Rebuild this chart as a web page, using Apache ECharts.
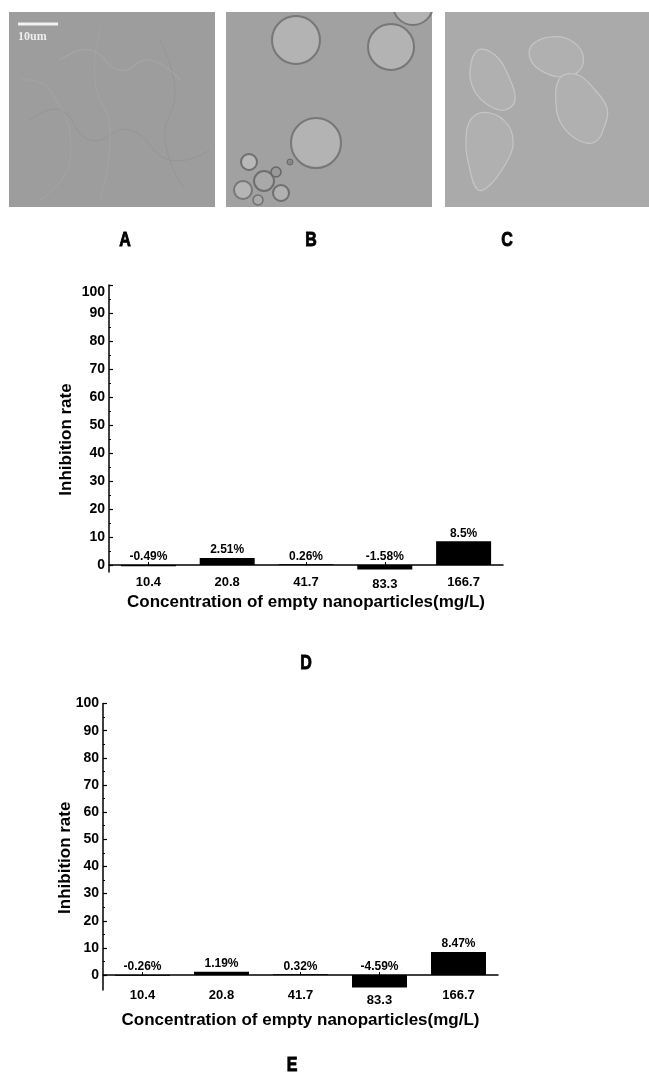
<!DOCTYPE html>
<html>
<head>
<meta charset="utf-8">
<script src="https://cdn.jsdelivr.net/npm/echarts@6/dist/echarts.min.js"></script>
<style>
  html, body { margin: 0; padding: 0; background: #fff; }
  #main { width: 649px; height: 1073px; }
</style>
</head>
<body>
<div id="main"></div>
<script>
// data
var concLabels = ['10.4', '20.8', '41.7', '83.3', '166.7'];
var rateD = [-0.49, 2.51, 0.26, -1.58, 8.5];
var rateE = [-0.26, 1.19, 0.32, -4.59, 8.47];
var rateTicks = [0, 10, 20, 30, 40, 50, 60, 70, 80, 90, 100];
var minorTicks = [5, 15, 25, 35, 45, 55, 65, 75, 85, 95];
var xName = 'Concentration of empty nanoparticles(mg/L)';
var yName = 'Inhibition rate';

var FONT = '"Liberation Sans", Arial, sans-serif';
var chart = echarts.init(document.getElementById('main'));

// x labels sit a bit lower under clearly negative bars
function xLabelRich() {
    var r = {};
    for (var p = 0; p <= 8; p++) {
        r['s' + p] = { padding: [p, 0, 0, 0], fontSize: 13, fontWeight: 'bold', fontFamily: FONT, color: '#000' };
    }
    return r;
}
function xLabelFmt(vals) {
    return function (v, i) {
        var p = Math.max(0, Math.round(-vals[i]));
        return '{s' + p + '|' + v + '}';
    };
}

function panelLetter(t, x, y) {
    return {
        type: 'text', x: x, y: y, scaleX: 0.8,
        style: {
            text: t, x: 0, y: 0, fill: '#000', stroke: '#000', lineWidth: 0.9,
            font: 'bold 20px "Liberation Sans", Arial, sans-serif',
            textAlign: 'center', textVerticalAlign: 'middle'
        }
    };
}

// micrograph stand-ins (drawn, not data)
var cellStyleB = { fill: '#b3b3b3', stroke: '#777', lineWidth: 2 };
var cellStyleC = { fill: '#b0b0b0', stroke: '#c6c6c6', lineWidth: 1.2 };
var faint = function (c, w) { return { stroke: c, lineWidth: w, fill: null, opacity: 0.7 }; };
var photos = [
    // panel A
    { type: 'rect', shape: { x: 9, y: 12, width: 206, height: 195 }, style: { fill: '#9d9d9d' } },
    { type: 'polyline', shape: { points: [[60, 60], [90, 50], [120, 70], [150, 60], [180, 80]], smooth: 0.5 }, style: faint('#aaaaaa', 1.2) },
    { type: 'polyline', shape: { points: [[30, 120], [60, 110], [90, 140], [130, 130], [170, 160], [210, 150]], smooth: 0.5 }, style: faint('#929292', 1) },
    { type: 'polyline', shape: { points: [[100, 30], [95, 80], [110, 130], [100, 200]], smooth: 0.5 }, style: faint('#a7a7a7', 1) },
    { type: 'polyline', shape: { points: [[160, 40], [175, 90], [165, 140], [185, 190]], smooth: 0.5 }, style: faint('#939393', 1) },
    { type: 'polyline', shape: { points: [[20, 80], [50, 90], [70, 160], [40, 200]], smooth: 0.5 }, style: faint('#a6a6a6', 1) },
    { type: 'line', shape: { x1: 18, y1: 24, x2: 58, y2: 24 }, style: { stroke: '#f2f2f2', lineWidth: 3 } },
    { type: 'text', x: 18, y: 37, style: { text: '10um', fill: '#eeeeee', fontSize: 12, fontWeight: 'bold', fontFamily: '"Liberation Serif", serif', textVerticalAlign: 'middle' } },
    // panel B
    { type: 'rect', shape: { x: 226, y: 12, width: 206, height: 195 }, style: { fill: '#a1a1a1' } },
    { type: 'circle', shape: { cx: 296, cy: 40, r: 24 }, style: cellStyleB },
    { type: 'circle', shape: { cx: 391, cy: 47, r: 23 }, style: cellStyleB },
    { type: 'circle', shape: { cx: 413, cy: 5, r: 20 }, style: cellStyleB },
    { type: 'circle', shape: { cx: 316, cy: 143, r: 25 }, style: cellStyleB },
    { type: 'circle', shape: { cx: 249, cy: 162, r: 8 }, style: { fill: '#b8b8b8', stroke: '#6f6f6f', lineWidth: 2 } },
    { type: 'circle', shape: { cx: 264, cy: 181, r: 10 }, style: { fill: '#a9a9a9', stroke: '#6f6f6f', lineWidth: 2 } },
    { type: 'circle', shape: { cx: 243, cy: 190, r: 9 }, style: { fill: '#b5b5b5', stroke: '#777', lineWidth: 2 } },
    { type: 'circle', shape: { cx: 281, cy: 193, r: 8 }, style: { fill: '#b0b0b0', stroke: '#6f6f6f', lineWidth: 2 } },
    { type: 'circle', shape: { cx: 276, cy: 172, r: 5 }, style: { fill: '#999', stroke: '#666', lineWidth: 1.5 } },
    { type: 'circle', shape: { cx: 290, cy: 162, r: 3 }, style: { fill: '#888', stroke: '#666', lineWidth: 1 } },
    { type: 'circle', shape: { cx: 258, cy: 200, r: 5 }, style: { fill: '#aaa', stroke: '#707070', lineWidth: 1.5 } },
    { type: 'rect', shape: { x: 220, y: 0, width: 220, height: 12 }, style: { fill: '#fff' } },
    // panel C
    { type: 'rect', shape: { x: 445, y: 12, width: 204, height: 195 }, style: { fill: '#aaaaaa' } },
    { type: 'polygon', shape: { points: [[478, 50], [495, 55], [508, 75], [515, 100], [505, 110], [488, 105], [474, 90], [470, 70]], smooth: 0.4 }, style: cellStyleC },
    { type: 'polygon', shape: { points: [[532, 45], [550, 37], [570, 40], [583, 55], [578, 72], [560, 77], [540, 70], [530, 58]], smooth: 0.4 }, style: cellStyleC },
    { type: 'polygon', shape: { points: [[560, 78], [578, 75], [595, 90], [607, 108], [605, 125], [595, 142], [578, 140], [562, 125], [556, 105]], smooth: 0.4 }, style: cellStyleC },
    { type: 'polygon', shape: { points: [[472, 118], [490, 113], [508, 125], [513, 145], [505, 165], [490, 185], [478, 190], [470, 170], [466, 140]], smooth: 0.4 }, style: cellStyleC },
    panelLetter('A', 125, 240),
    panelLetter('B', 311, 240),
    panelLetter('C', 507, 240),
    panelLetter('D', 306, 663),
    panelLetter('E', 292, 1065)
];

function mainY(grid, min, gap, topRich) {
    return {
        type: 'value', gridIndex: grid, position: 'left', min: min, max: 100,
        name: yName, nameLocation: 'middle', nameGap: gap, nameMoveOverlap: false,
        nameTextStyle: { fontSize: 17, fontWeight: 'bold', fontFamily: FONT, color: '#000', padding: [0, 22, 0, 0] },
        axisLine: { show: true, onZero: false, lineStyle: { color: '#000', width: 1.5 } },
        axisTick: { show: true, inside: true, length: 4, customValues: rateTicks, lineStyle: { color: '#000', width: 1.2 } },
        axisLabel: {
            customValues: rateTicks, margin: 4,
            fontSize: 14, fontWeight: 'bold', fontFamily: FONT, color: '#000',
            formatter: function (v) { return (topRich && v === 100) ? '{t|100}' : String(v); },
            rich: { t: { padding: [14, 0, 0, 0], fontSize: 14, fontWeight: 'bold', fontFamily: FONT, color: '#000' } }
        },
        splitLine: { show: false }
    };
}
function minorY(grid, min) {
    return {
        type: 'value', gridIndex: grid, position: 'left', offset: 0, min: min, max: 100,
        axisLine: { show: false, onZero: false },
        axisTick: { show: true, inside: true, length: 2, customValues: minorTicks, lineStyle: { color: '#000', width: 1 } },
        axisLabel: { show: false },
        splitLine: { show: false }
    };
}
function xAx(grid, yIdx, vals, margin, gap) {
    return {
        type: 'category', gridIndex: grid, data: concLabels,
        name: xName, nameLocation: 'middle', nameGap: gap, nameMoveOverlap: false,
        nameTextStyle: { fontSize: 17, fontWeight: 'bold', fontFamily: FONT, color: '#000' },
        axisLine: { onZero: true, onZeroAxisIndex: yIdx, lineStyle: { color: '#000', width: 1.5 } },
        axisTick: { show: true, inside: true, alignWithLabel: true, length: 3, lineStyle: { color: '#000' } },
        axisLabel: { margin: margin, formatter: xLabelFmt(vals), rich: xLabelRich() },
        splitLine: { show: false }
    };
}
function barSeries(xi, yi, vals, dist) {
    return {
        type: 'bar', xAxisIndex: xi, yAxisIndex: yi, data: vals, barWidth: 55,
        itemStyle: { color: '#000' },
        label: {
            show: true, position: 'top', distance: dist,
            fontSize: 12, fontWeight: 'bold', fontFamily: FONT, color: '#000',
            formatter: function (p) { return p.value + '%'; }
        },
        silent: true, animation: false
    };
}

chart.setOption({
    animation: false,
    backgroundColor: '#fff',
    graphic: photos,
    grid: [
        { left: 109, top: 285, width: 394, height: 287 },
        { left: 103, top: 703.5, width: 395, height: 286.5 }
    ],
    xAxis: [xAx(0, 0, rateD, 3.5, 21.5), xAx(1, 2, rateE, -1.5, 21.5)],
    yAxis: [mainY(0, -2.5, 34, true), minorY(0, -2.5), mainY(1, -5.5, 29, false), minorY(1, -5.5)],
    series: [barSeries(0, 0, rateD, 2), barSeries(1, 2, rateE, 2)]
});
</script>
</body>
</html>
